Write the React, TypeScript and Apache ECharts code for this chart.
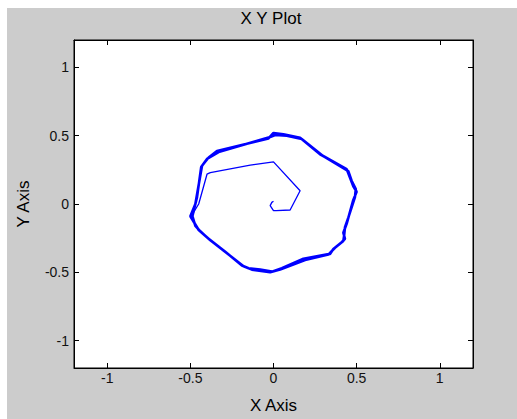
import React, { useEffect, useRef } from "react";
import * as echarts from "echarts";

const title = "X Y Plot";
const xName = "X Axis";
const yName = "Y Axis";
const tickValues = [-1, -0.5, 0, 0.5, 1];

// inner spiral arm (thin)
const armX = [0.0, -0.01, -0.02, 0.0, 0.016, 0.1, 0.16, 0.0, -0.14, -0.38, -0.4, -0.45, -0.49];
const armY = [0.02, 0.012, -0.012, -0.049, -0.049, -0.044, 0.097, 0.308, 0.284, 0.23, 0.218, 0.0, -0.08];

// outer loop (traversed twice, slightly different each lap)
const loopX = [
  -0.49, -0.47, -0.44, -0.39, -0.29, -0.19, -0.15, -0.08, -0.01, 0.05, 0.18, 0.34, 0.36, 0.41, 0.43, 0.42, 0.44, 0.48, 0.5, 0.48, 0.44, 0.28, 0.16, 0.06, 0.0, -0.03, -0.34, -0.39, -0.43, -0.47, -0.5,
  -0.48, -0.45, -0.38, -0.28, -0.18, -0.13, -0.02, 0.04, 0.19, 0.33, 0.37, 0.42, 0.425, 0.43, 0.45, 0.49, 0.495, 0.47, 0.45, 0.3, 0.17, 0.08, 0.01, -0.02, -0.33, -0.4, -0.435, -0.46, -0.49,
];
const loopY = [
  -0.08, -0.16, -0.2, -0.255, -0.35, -0.45, -0.47, -0.48, -0.495, -0.47, -0.4, -0.365, -0.33, -0.28, -0.255, -0.21, -0.145, 0.03, 0.09, 0.13, 0.255, 0.364, 0.485, 0.51, 0.52, 0.48, 0.388, 0.34, 0.28, 0.0, -0.09,
  -0.13, -0.19, -0.265, -0.36, -0.455, -0.48, -0.5, -0.48, -0.41, -0.37, -0.32, -0.27, -0.23, -0.17, -0.1, 0.05, 0.11, 0.17, 0.24, 0.35, 0.475, 0.5, 0.505, 0.49, 0.38, 0.33, 0.27, 0.05, -0.1,
];

const pairs = (xs: number[], ys: number[]) => xs.map((x, i) => [x, ys[i]]);

export default function App() {
  const ref = useRef<HTMLDivElement>(null);
  useEffect(() => {
    if (!ref.current) return;
    const chart = echarts.init(ref.current, null, { renderer: "svg" });
    const font = "Arial, 'Liberation Sans', sans-serif";
    const axisCommon = {
      type: "value" as const,
      min: -1.2,
      max: 1.2,
      splitLine: { show: false },
      axisLine: { show: true, onZero: false, lineStyle: { color: "#000", width: 1 } },
      axisTick: { show: true, inside: true, length: 5, customValues: tickValues, lineStyle: { color: "#000" } },
    };
    chart.setOption({
      animation: false,
      backgroundColor: "#cccccc",
      title: {
        text: title,
        left: 264,
        top: 2,
        textAlign: "center",
        padding: 0,
        textStyle: { fontFamily: font, fontSize: 17, fontWeight: "normal", color: "#000" },
      },
      grid: {
        left: 67,
        top: 32,
        right: 44,
        bottom: 49,
        show: true,
        backgroundColor: "#ffffff",
        borderColor: "#000",
        borderWidth: 1,
        containLabel: false,
      },
      xAxis: [
        {
          ...axisCommon,
          position: "bottom",
          name: xName,
          nameLocation: "middle",
          nameGap: 29,
          nameTextStyle: { fontFamily: font, fontSize: 17, color: "#000" },
          axisLabel: { show: true, customValues: tickValues, margin: 3, fontFamily: font, fontSize: 14, color: "#111" },
        },
        {
          ...axisCommon,
          position: "top",
          axisLabel: { show: false },
        },
      ],
      yAxis: [
        {
          ...axisCommon,
          position: "left",
          name: yName,
          nameLocation: "middle",
          nameGap: 42,
          nameTextStyle: { fontFamily: font, fontSize: 17, color: "#000" },
          axisLabel: { show: true, customValues: tickValues, margin: 5, fontFamily: font, fontSize: 14, color: "#111" },
        },
        {
          ...axisCommon,
          position: "right",
          axisLabel: { show: false },
        },
      ],
      series: [
        {
          type: "line",
          xAxisIndex: 0,
          yAxisIndex: 0,
          data: pairs(armX, armY),
          symbol: "none",
          lineStyle: { color: "#0000ff", width: 1.3 },
        },
        {
          type: "line",
          xAxisIndex: 0,
          yAxisIndex: 0,
          data: pairs(loopX, loopY),
          symbol: "none",
          lineStyle: { color: "#0000ff", width: 2.6 },
        },
      ],
    });
    return () => chart.dispose();
  }, []);
  return (
    <div
      ref={ref}
      style={{ position: "fixed", left: 7, top: 8, width: 510, height: 411 }}
    />
  );
}
